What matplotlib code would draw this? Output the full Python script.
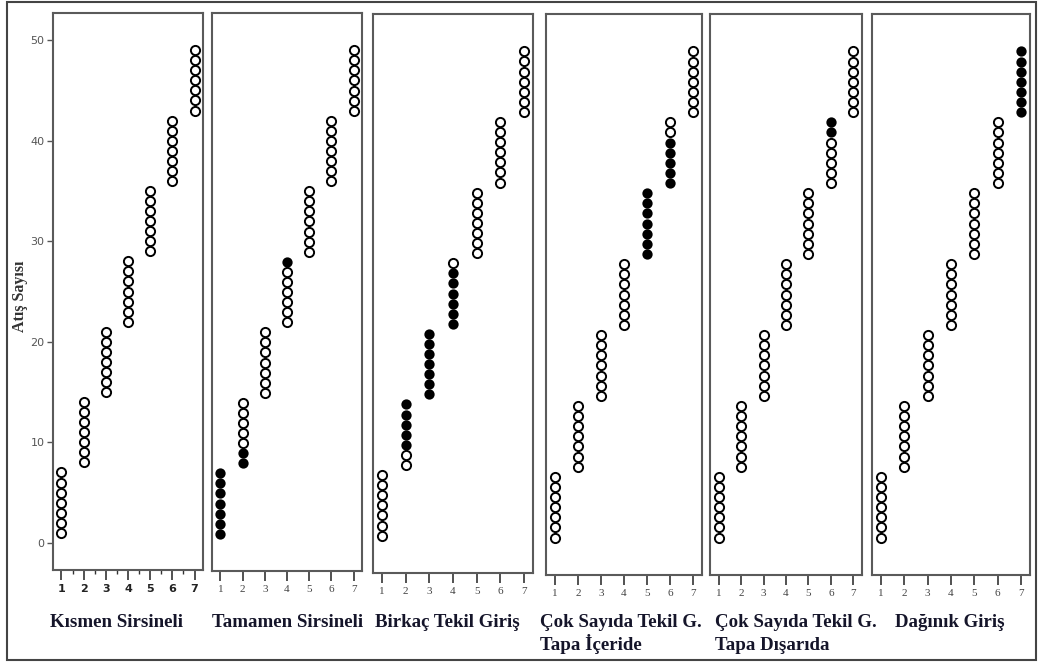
import matplotlib
matplotlib.use('Agg')
import matplotlib.pyplot as plt
from matplotlib.patches import Rectangle

# figure size in pixels
W, H = 1039, 663

# data: seven groups on the x axis, shot counts stacked within each group
groups = [1, 2, 3, 4, 5, 6, 7]
group_values = [
  [1, 2, 3, 4, 5, 6, 7],
  [8, 9, 10, 11, 12, 13, 14],
  [15, 16, 17, 18, 19, 20, 21],
  [22, 23, 24, 25, 26, 27, 28],
  [29, 30, 31, 32, 33, 34, 35],
  [36, 37, 38, 39, 40, 41, 42],
  [43, 44, 45, 46, 47, 48, 49],
]

panel_titles = [
  ['Kısmen Sirsineli'],
  ['Tamamen Sirsineli'],
  ['Birkaç Tekil Giriş'],
  ['Çok Sayıda Tekil G.', 'Tapa İçeride'],
  ['Çok Sayıda Tekil G.', 'Tapa Dışarıda'],
  ['Dağınık Giriş'],
]

# values drawn as filled markers in each panel
filled_p1 = []
filled_p2 = [1, 2, 3, 4, 5, 6, 7, 8, 9, 28]
filled_p3 = [10, 11, 12, 13, 14, 15, 16, 17, 18, 19, 20, 21, 22, 23, 24, 25, 26, 27]
filled_p4 = [29, 30, 31, 32, 33, 34, 35, 36, 37, 38, 39, 40]
filled_p5 = [41, 42]
filled_p6 = [43, 44, 45, 46, 47, 48, 49]
filled_sets = [filled_p1, filled_p2, filled_p3, filled_p4, filled_p5, filled_p6]

y_ticks = [0, 10, 20, 30, 40, 50]
y_label = 'Atış Sayısı'

# panel boxes in pixels: left, top, right, bottom
boxes = [
  (53, 13, 203, 570),
  (212, 13, 362, 571),
  (373, 14, 533, 573),
  (546, 14, 702, 575),
  (710, 14, 862, 575),
  (872, 14, 1030, 575),
]
title_x = [50, 212, 375, 540, 715, 895]
title_baselines = [627, 650]

frame_col = '#5a5a5a'
text_col = '#15152a'


def px_axes(fig, box):
  l, t, r, b = box
  return fig.add_axes([l / W, 1 - b / H, (r - l) / W, (b - t) / H])


fig = plt.figure(figsize=(W / 100, H / 100), dpi=100)

for i, box in enumerate(boxes):
  ax = px_axes(fig, box)
  filled = filled_sets[i]
  for g, vals in zip(groups, group_values):
    for v in vals:
      is_filled = v in filled
      ax.plot(g, v, marker='o', markersize=6.6 if not is_filled else 6.0,
              markeredgewidth=1.4, markeredgecolor='black',
              markerfacecolor='black' if is_filled else 'white',
              linestyle='none', zorder=3)

  ax.set_xlim(0.62, 7.38)
  ax.set_ylim(-2.7, 52.7)
  for s in ax.spines.values():
    s.set_color(frame_col)
    s.set_linewidth(1.5)

  ax.set_xticks(groups)
  ax.tick_params(axis='x', direction='out', length=7, width=1.2, color='#333333', pad=3)
  if i == 0:
    ax.set_xticks([g + 0.5 for g in groups[:-1]], minor=True)
    ax.tick_params(axis='x', which='minor', direction='out', length=3, width=1.0, color='#333333')
    ax.set_xticklabels([str(g) for g in groups], fontsize=8, fontweight='bold', color='#222222')
    ax.set_yticks(y_ticks)
    ax.set_yticklabels([str(t) for t in y_ticks], fontsize=8, color='#555555')
    ax.tick_params(axis='y', direction='out', length=4, width=1.0, color='#555555', pad=2)
  else:
    ax.set_xticklabels([str(g) for g in groups], fontsize=8, color='#444444',
                       family='Liberation Serif')
    ax.set_yticks([])

  # panel caption below the axis, one text per line so the lines align across panels
  for line, base in zip(panel_titles[i], title_baselines):
    fig.text(title_x[i] / W, 1 - base / H, line, fontsize=13.6, fontweight='bold',
             family='Liberation Serif', color=text_col, ha='left', va='baseline')

fig.text(20 / W, 1 - 296 / H, y_label, rotation=90, fontsize=11.5, fontweight='bold',
         family='Liberation Serif', color='#333333', ha='center', va='center')

# outer border
fig.patches.append(Rectangle((7 / W, 1 - 660 / H), (1036 - 7) / W, (660 - 2) / H,
                             transform=fig.transFigure, fill=False,
                             edgecolor='#444444', linewidth=1.5))

fig.savefig('out.png', dpi=100, facecolor='white')
